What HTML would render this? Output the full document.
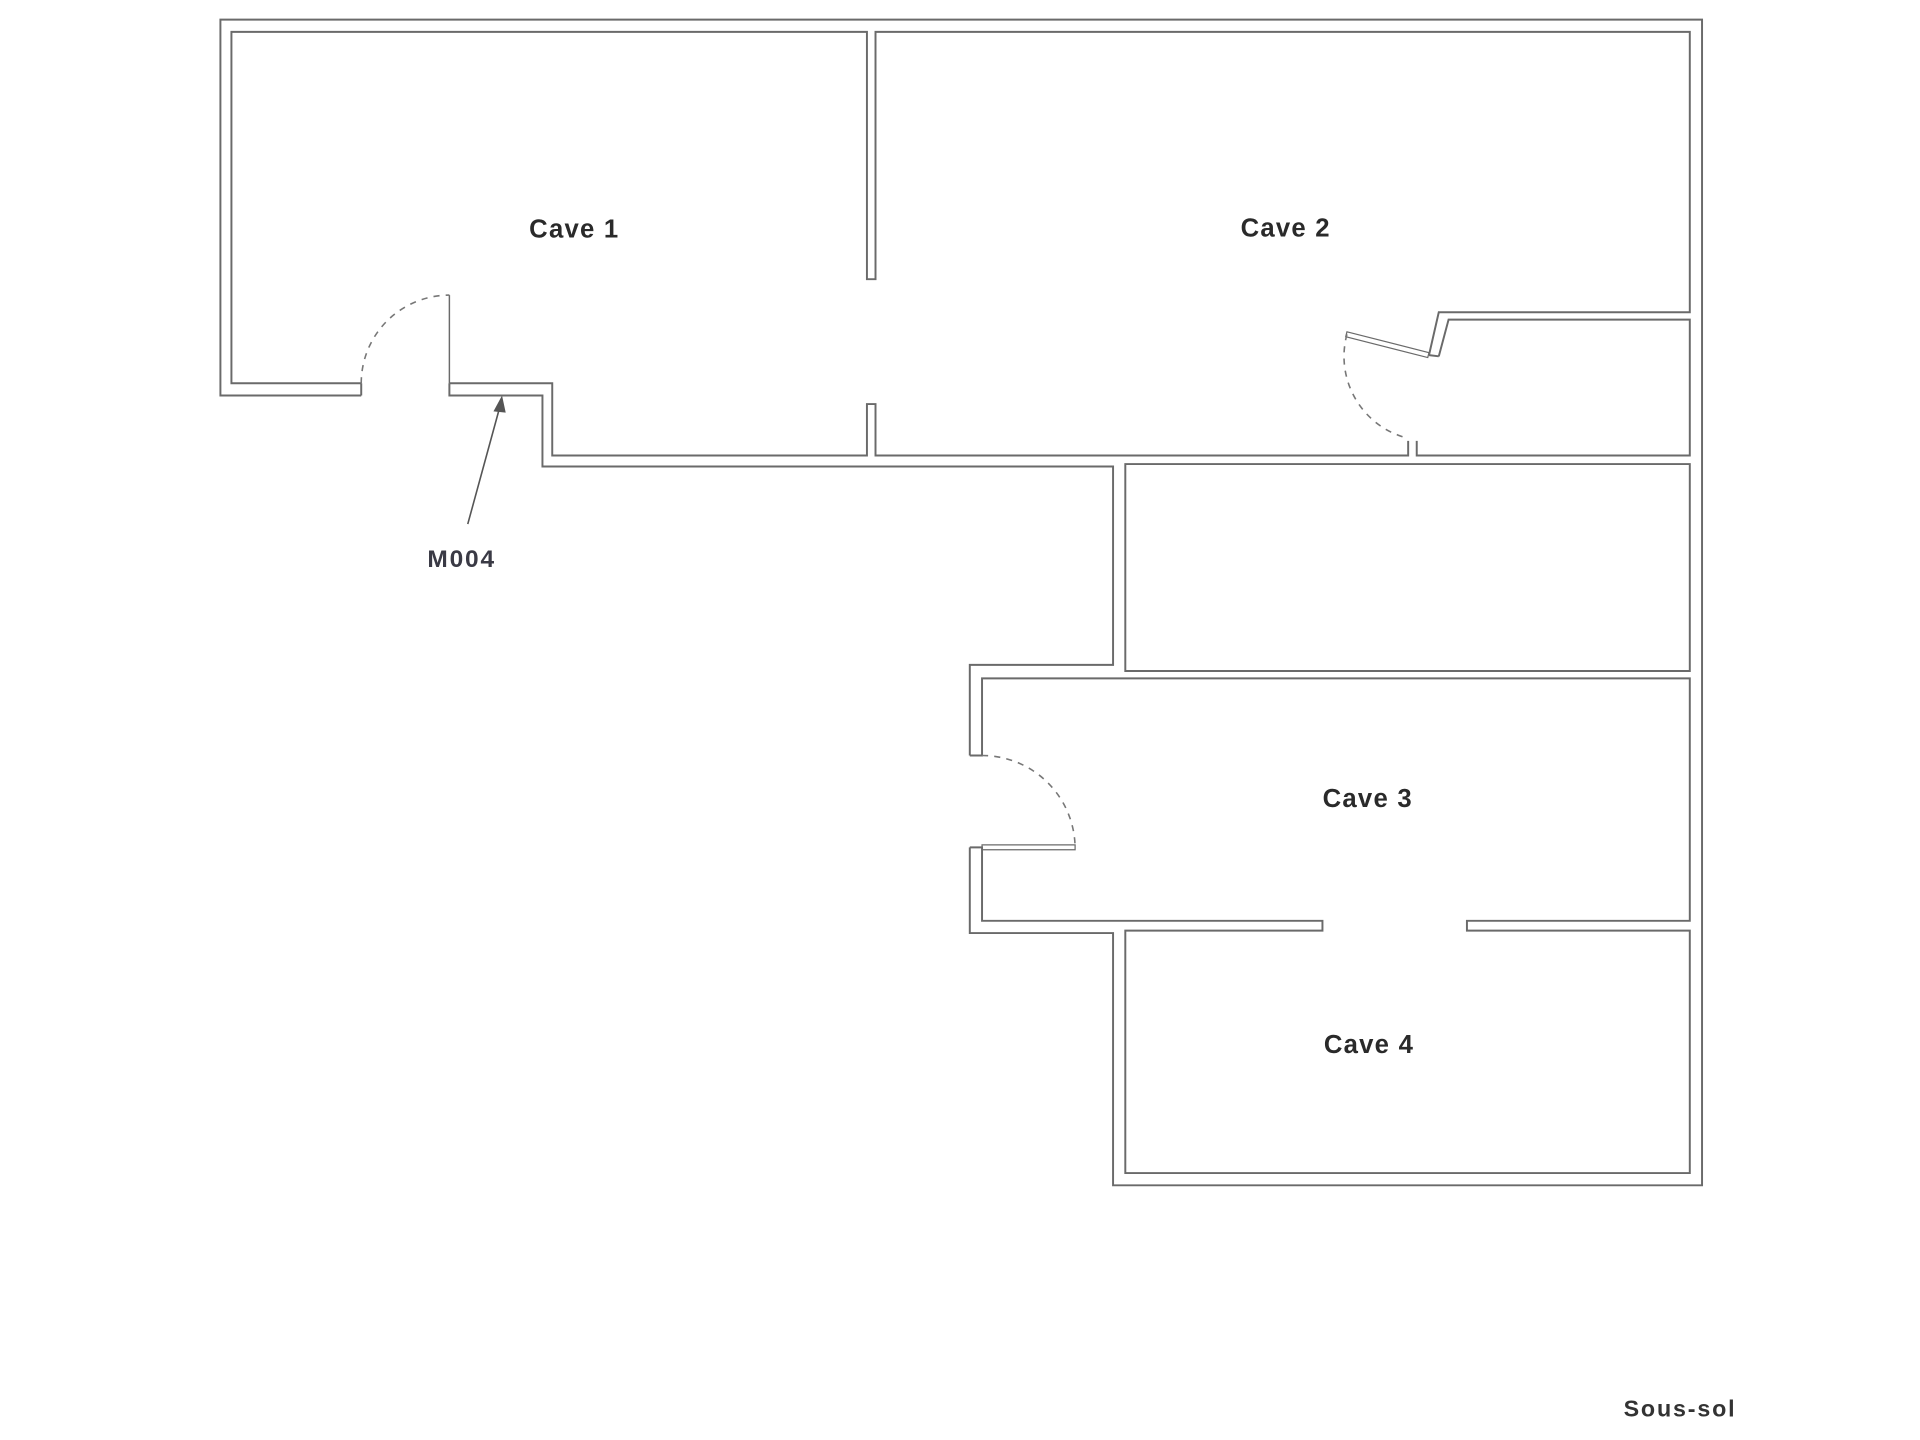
<!DOCTYPE html>
<html><head><meta charset="utf-8"><style>
html,body{margin:0;padding:0;background:#fff;width:1920px;height:1440px;overflow:hidden}
svg{display:block}
text{font-family:"Liberation Sans",Arial,sans-serif;font-weight:bold;fill:#2a2a2a}
</style></head><body>
<svg width="1920" height="1440" viewBox="0 0 1568 1176" xmlns="http://www.w3.org/2000/svg">
<g fill="none" stroke="#6a6a6a" stroke-width="1.6" stroke-linejoin="miter">
<polyline points="295,323 180,323 180,16 1390,16 1390,968 909,968 909,762 792,762 792,692"/>
<polyline points="792,617 792,543 909,543 909,381 443,381 443,323 367,323 367,313"/>
<polyline points="295,313 189,313 189,26 708,26 708,228 715,228 715,26 1380,26 1380,255 1175,255 1167,290"/>
<polyline points="295,313 295,323"/>
<polyline points="367,313 451,313 451,372 708,372 708,330 715,330 715,372 1150,372 1150,360"/>
<polyline points="1175,291 1183,261 1380,261 1380,372 1157,372 1157,360"/>
<polyline points="1167,290 1175,291"/>
<polygon points="919,379 1380,379 1380,548 919,548"/>
<polyline points="792,617 802,617 802,554 1380,554 1380,752 1198,752 1198,760 1380,760 1380,958 919,958 919,760 1080,760 1080,752 802,752 802,692 792,692"/>
<line x1="367" y1="241" x2="367" y2="313" stroke-width="1.2"/>
<polygon points="802,690 878,690 878,694 802,694" stroke-width="1"/>
<polygon points="1100,271 1167,288 1166,292 1099,275" stroke-width="1"/>
</g>
<g fill="none" stroke="#777" stroke-width="1.3" stroke-dasharray="5,5">
<path d="M295,313 A72,72 0 0 1 367,241"/>
<path d="M802,617 A76,76 0 0 1 878,692"/>
<path d="M1100,273 A69,69 0 0 0 1150,358"/>
</g>
<line x1="382" y1="428" x2="408" y2="333" stroke="#555" stroke-width="1.3"/>
<polygon points="410,323 403,336 413,337" fill="#555"/>
<g font-size="21" text-anchor="middle" letter-spacing="1">
<text x="469" y="194">Cave 1</text>
<text x="1050" y="193">Cave 2</text>
<text x="1117" y="659">Cave 3</text>
<text x="1118" y="860">Cave 4</text>
</g>
<text x="377" y="463" font-size="20" text-anchor="middle" letter-spacing="1.5" style="fill:#3a3a45">M004</text>
<text x="1372" y="1157" font-size="19" text-anchor="middle" letter-spacing="1.5" style="fill:#333">Sous-sol</text>
</svg>
</body></html>
